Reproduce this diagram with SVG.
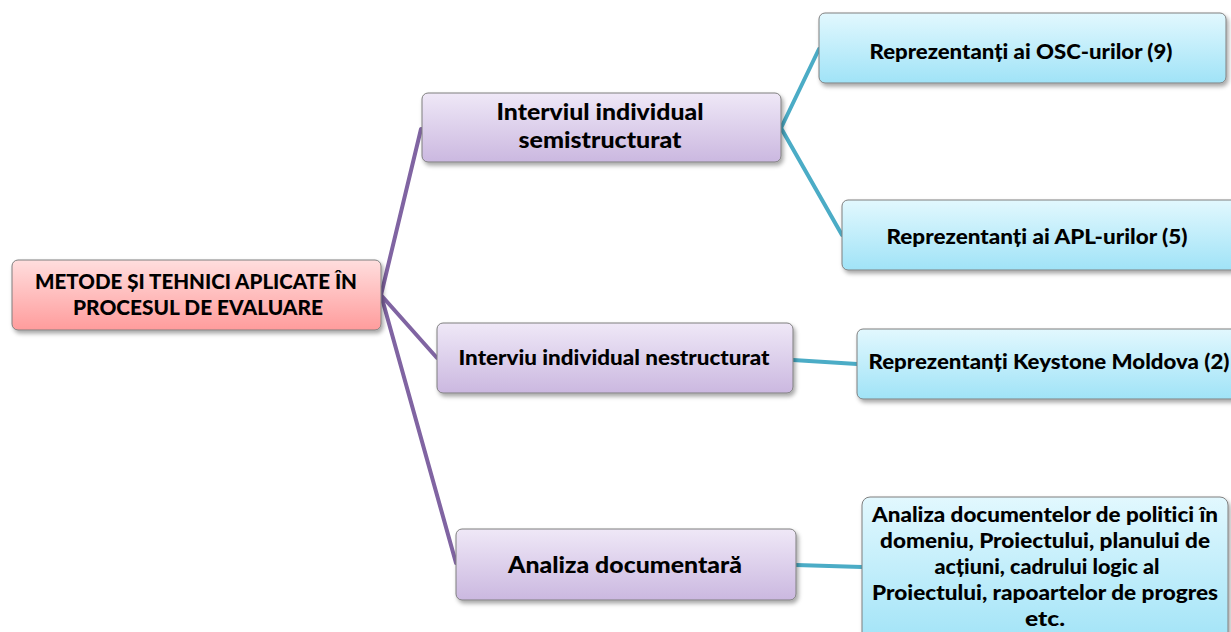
<svg xmlns="http://www.w3.org/2000/svg" width="1231" height="632" viewBox="0 0 1231 632">
<style>
  text { font-family: Lato, "Open Sans", "Liberation Sans", sans-serif; font-weight: 900; fill: #000; text-anchor: middle; font-variant-ligatures: none; }
  .box { stroke: #7f7f7f; stroke-width: 1; filter: url(#sh); }
  .pink { fill: url(#gPink); }
  .lav { fill: url(#gLav); }
  .blue { fill: url(#gBlue); }
  .cp { stroke: #8064a2; stroke-width: 4; fill: none; stroke-linecap: round; }
  .cb { stroke: #4bacc6; stroke-width: 4; fill: none; stroke-linecap: round; }
</style>
<defs>
  <linearGradient id="gPink" x1="0" y1="0" x2="0" y2="1">
    <stop offset="0" stop-color="#ffdede"/>
    <stop offset="1" stop-color="#ff9c9c"/>
  </linearGradient>
  <linearGradient id="gLav" x1="0" y1="0" x2="0" y2="1">
    <stop offset="0" stop-color="#efe8f7"/>
    <stop offset="1" stop-color="#cbb8e0"/>
  </linearGradient>
  <linearGradient id="gBlue" x1="0" y1="0" x2="0" y2="1">
    <stop offset="0" stop-color="#e2f8fe"/>
    <stop offset="1" stop-color="#a0e3f7"/>
  </linearGradient>
  <filter id="sh" x="-10%" y="-20%" width="120%" height="150%">
    <feDropShadow dx="2" dy="3" stdDeviation="2" flood-color="#000" flood-opacity="0.35"/>
  </filter>
</defs>
<rect width="1231" height="632" fill="#fff"/>
<g id="connectors">
  <line class="cp" x1="381" y1="295" x2="421" y2="129"/>
  <line class="cp" x1="381" y1="295" x2="437" y2="358"/>
  <line class="cp" x1="381" y1="295" x2="456" y2="563"/>
  <line class="cb" x1="781" y1="128" x2="819" y2="49"/>
  <line class="cb" x1="781" y1="128" x2="842" y2="235"/>
  <line class="cb" x1="793" y1="360" x2="857" y2="364"/>
  <line class="cb" x1="796" y1="565" x2="862" y2="567"/>
</g>
<g id="root">
  <rect class="box pink" x="12" y="260" width="369" height="70" rx="6"/>
  <text x="196" y="289" font-size="20" textLength="322" lengthAdjust="spacingAndGlyphs">METODE ȘI TEHNICI APLICATE ÎN</text>
  <text x="198" y="315" font-size="20" textLength="250" lengthAdjust="spacingAndGlyphs">PROCESUL DE EVALUARE</text>
</g>
<g id="semistructurat">
  <rect class="box lav" x="422" y="93" width="359" height="69" rx="6"/>
  <text x="600" y="120" font-size="23" textLength="207" lengthAdjust="spacingAndGlyphs">Interviul individual</text>
  <text x="600" y="148" font-size="23" textLength="163" lengthAdjust="spacingAndGlyphs">semistructurat</text>
</g>
<g id="osc">
  <rect class="box blue" x="819" y="13" width="407" height="70" rx="6"/>
  <text x="1021" y="59" font-size="20" textLength="303" lengthAdjust="spacingAndGlyphs">Reprezentanți ai OSC-urilor (9)</text>
</g>
<g id="apl">
  <rect class="box blue" x="842" y="200" width="395" height="70" rx="6"/>
  <text x="1037" y="244" font-size="20" textLength="301" lengthAdjust="spacingAndGlyphs">Reprezentanți ai APL-urilor (5)</text>
</g>
<g id="nestructurat">
  <rect class="box lav" x="437" y="323" width="356" height="70" rx="6"/>
  <text x="614" y="365" font-size="20" textLength="311" lengthAdjust="spacingAndGlyphs">Interviu individual nestructurat</text>
</g>
<g id="keystone">
  <rect class="box blue" x="857" y="329" width="390" height="70" rx="6"/>
  <text x="1049" y="369" font-size="20" textLength="361" lengthAdjust="spacingAndGlyphs">Reprezentanți Keystone Moldova (2)</text>
</g>
<g id="documentara">
  <rect class="box lav" x="456" y="529" width="340" height="71" rx="6"/>
  <text x="625" y="573" font-size="23" textLength="234" lengthAdjust="spacingAndGlyphs">Analiza documentară</text>
</g>
<g id="documente">
  <rect class="box blue" x="862" y="497" width="366" height="150" rx="8"/>
  <text x="1045" y="522" font-size="20" textLength="346" lengthAdjust="spacingAndGlyphs">Analiza documentelor de politici în</text>
  <text x="1045" y="548" font-size="20" textLength="330" lengthAdjust="spacingAndGlyphs">domeniu, Proiectului, planului de</text>
  <text x="1047" y="574" font-size="20" textLength="225" lengthAdjust="spacingAndGlyphs">acțiuni, cadrului logic al</text>
  <text x="1045" y="600" font-size="20" textLength="346" lengthAdjust="spacingAndGlyphs">Proiectului, rapoartelor de progres</text>
  <text x="1045" y="626" font-size="20" textLength="40" lengthAdjust="spacingAndGlyphs">etc.</text>
</g>
</svg>
